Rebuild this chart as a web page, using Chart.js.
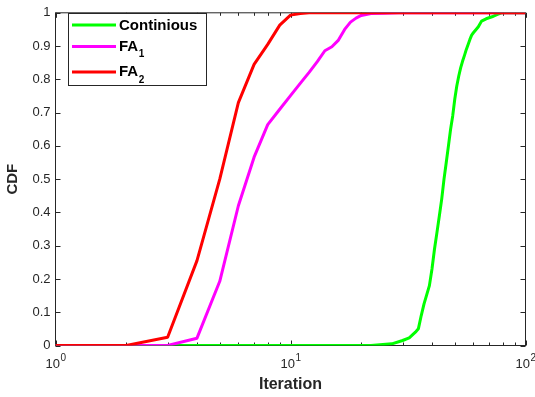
<!DOCTYPE html>
<html>
<head>
<meta charset="utf-8">
<script src="https://cdn.jsdelivr.net/npm/chart.js@4.4.1/dist/chart.umd.min.js"></script>
<style>
  html, body { margin: 0; padding: 0; background: #fff; }
  #wrap { width: 535px; height: 397px; }
</style>
</head>
<body>
<div id="wrap"><canvas id="c"></canvas></div>
<script>
// Legend names (main text + subscript)
const seriesNames = ['Continious', 'FA', 'FA'];
const seriesSubs  = ['', '1', '2'];

// Continious
const contIter = [1, 22, 24, 27, 30, 32, 34, 35, 36, 37, 39, 40, 41, 42, 43, 44, 45, 46, 47, 48, 49, 50, 51, 52, 53, 54, 55, 56, 57, 58, 59, 60, 62, 63, 65, 68, 72, 76, 79, 100];
const contCdf  = [0, 0, 0.002, 0.005, 0.015, 0.023, 0.04, 0.05, 0.09, 0.125, 0.18, 0.23, 0.29, 0.34, 0.39, 0.44, 0.5, 0.55, 0.6, 0.65, 0.69, 0.74, 0.78, 0.81, 0.835, 0.855, 0.872, 0.89, 0.905, 0.92, 0.933, 0.94, 0.952, 0.958, 0.975, 0.982, 0.988, 0.995, 1, 1];

// FA_1
const fa1Iter = [1, 2, 3, 4, 5, 6, 7, 8, 9, 10, 11, 12, 13, 14, 15, 16, 17, 18, 19, 20, 22, 25, 29, 100];
const fa1Cdf  = [0, 0, 0, 0.022, 0.193, 0.42, 0.566, 0.664, 0.71, 0.751, 0.788, 0.821, 0.853, 0.886, 0.898, 0.918, 0.95, 0.972, 0.984, 0.992, 0.998, 0.999, 1, 1];

// FA_2
const fa2Iter = [1, 2, 3, 4, 5, 6, 7, 8, 9, 10, 11, 12, 100];
const fa2Cdf  = [0, 0, 0.025, 0.255, 0.5, 0.73, 0.845, 0.905, 0.963, 0.993, 0.998, 1, 1];

// Axis ticks
const yTicks = [0, 0.1, 0.2, 0.3, 0.4, 0.5, 0.6, 0.7, 0.8, 0.9, 1];
const yTickLabels = ['0', '0.1', '0.2', '0.3', '0.4', '0.5', '0.6', '0.7', '0.8', '0.9', '1'];
const xTickValues = [1, 10, 100];
const xTickBase = ['10', '10', '10'];
const xTickExp  = ['0', '1', '2'];

const FONT = "'Liberation Sans', Arial, Helvetica, sans-serif";
const AXIS_COLOR = '#262626';

const toPoints = (xs, ys) => xs.map((x, i) => ({ x: x, y: ys[i] }));

// Box, inward ticks and exponent tick labels
const axesFrame = {
  id: 'axesFrame',
  beforeDatasetsDraw(chart) {
    const { ctx, chartArea: a, scales: { x, y } } = chart;
    ctx.save();
    ctx.strokeStyle = AXIS_COLOR;
    ctx.lineWidth = 1;
    ctx.strokeRect(a.left, a.top, a.right - a.left, a.bottom - a.top);
    ctx.beginPath();
    yTicks.forEach(v => {
      const py = Math.round(y.getPixelForValue(v)) + 0.5;
      ctx.moveTo(a.left, py); ctx.lineTo(a.left + 5, py);
      ctx.moveTo(a.right, py); ctx.lineTo(a.right - 5, py);
    });
    for (let d = 1; d <= 100; d *= 10) {
      for (let m = 1; m <= 9; m++) {
        const v = d * m;
        if (v > 100) break;
        const px = Math.round(x.getPixelForValue(v)) + 0.5;
        const len = m === 1 ? 5 : 3;
        ctx.moveTo(px, a.bottom); ctx.lineTo(px, a.bottom - len);
        ctx.moveTo(px, a.top); ctx.lineTo(px, a.top + len);
      }
    }
    ctx.stroke();

    ctx.fillStyle = AXIS_COLOR;
    ctx.textBaseline = 'alphabetic';
    ctx.textAlign = 'left';
    xTickValues.forEach((v, i) => {
      const px = x.getPixelForValue(v);
      ctx.font = '13px ' + FONT;
      const wb = ctx.measureText(xTickBase[i]).width;
      ctx.font = '10px ' + FONT;
      const we = ctx.measureText(xTickExp[i]).width;
      const start = px - (wb + we) / 2;
      ctx.font = '13px ' + FONT;
      ctx.fillText(xTickBase[i], start, a.bottom + 22);
      ctx.font = '10px ' + FONT;
      ctx.fillText(xTickExp[i], start + wb + 0.5, a.bottom + 15.5);
    });
    ctx.restore();
  }
};

// Boxed legend with subscripted names
const boxLegend = {
  id: 'boxLegend',
  afterDatasetsDraw(chart) {
    const { ctx } = chart;
    const lineY = [25, 46.5, 72];
    const baseY = [30, 50.5, 76];
    ctx.save();
    ctx.fillStyle = '#fff';
    ctx.fillRect(68.5, 13.5, 138, 72);
    ctx.strokeStyle = AXIS_COLOR;
    ctx.lineWidth = 1;
    ctx.strokeRect(68.5, 13.5, 138, 72);
    chart.data.datasets.forEach((ds, i) => {
      ctx.strokeStyle = ds.borderColor;
      ctx.lineWidth = 3;
      ctx.beginPath();
      ctx.moveTo(72, lineY[i]);
      ctx.lineTo(116, lineY[i]);
      ctx.stroke();
      ctx.fillStyle = '#000';
      ctx.textAlign = 'left';
      ctx.textBaseline = 'alphabetic';
      ctx.font = 'bold 15px ' + FONT;
      ctx.fillText(seriesNames[i], 119, baseY[i]);
      if (seriesSubs[i]) {
        const w = ctx.measureText(seriesNames[i]).width;
        ctx.font = 'bold 10px ' + FONT;
        ctx.fillText(seriesSubs[i], 119 + w + 0.5, baseY[i] + 6.5);
      }
    });
    ctx.restore();
  }
};

new Chart(document.getElementById('c'), {
  type: 'line',
  data: {
    datasets: [
      { label: 'Continious', data: toPoints(contIter, contCdf), borderColor: '#00ff00', order: 3 },
      { label: 'FA1', data: toPoints(fa1Iter, fa1Cdf), borderColor: '#ff00ff', order: 2 },
      { label: 'FA2', data: toPoints(fa2Iter, fa2Cdf), borderColor: '#ff0000', order: 1 }
    ]
  },
  options: {
    responsive: true,
    maintainAspectRatio: false,
    devicePixelRatio: 1,
    animation: false,
    datasets: { line: { borderWidth: 3, pointRadius: 0, tension: 0, fill: false, borderJoinStyle: 'round' } },
    layout: { padding: { top: 8.5, right: 9.5, left: 0, bottom: 0 } },
    plugins: { legend: { display: false }, tooltip: { enabled: false } },
    scales: {
      x: {
        type: 'logarithmic',
        min: 1, max: 100,
        grid: { display: false, drawTicks: false },
        border: { display: false },
        ticks: { display: false },
        title: {
          display: true, text: 'Iteration', color: AXIS_COLOR,
          font: { family: FONT, size: 16, weight: 'bold' },
          padding: { top: 0, bottom: 3 }
        },
        afterFit(s) { s.height = 51.5; }
      },
      y: {
        min: 0, max: 1,
        afterBuildTicks(s) { s.ticks = yTicks.map(v => ({ value: v })); },
        grid: { display: false, drawTicks: false },
        border: { display: false },
        ticks: {
          color: AXIS_COLOR, padding: 5,
          font: { family: FONT, size: 13 },
          callback: (v, i) => yTickLabels[i]
        },
        title: {
          display: true, text: 'CDF', color: AXIS_COLOR,
          font: { family: FONT, size: 15, weight: 'bold' },
          padding: { top: 4, bottom: 0 }
        },
        afterFit(s) { s.width = 55.5; }
      }
    }
  },
  plugins: [axesFrame, boxLegend]
});
</script>
</body>
</html>
